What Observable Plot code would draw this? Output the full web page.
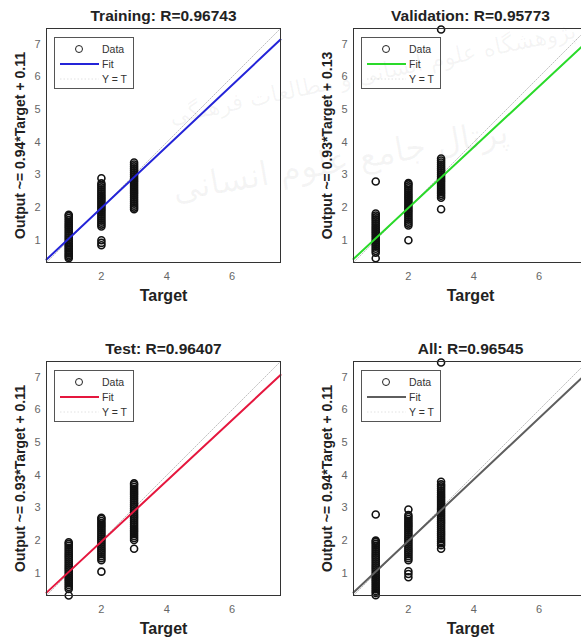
<!DOCTYPE html>
<html>
<head>
<meta charset="utf-8">
<script src="https://cdn.jsdelivr.net/npm/d3@7"></script>
<script src="https://cdn.jsdelivr.net/npm/@observablehq/plot@0.6"></script>
<style>
  html, body { margin: 0; padding: 0; background: #fff; overflow: hidden; }
  #root { position: relative; width: 581px; height: 637px; overflow: hidden; background: #fff; }
  .panel { position: absolute; width: 290px; height: 320px; }
  .panel svg { position: absolute; left: 0; top: 0; overflow: visible; }
  .legend { position: absolute; left: 54px; top: 37px; width: 78px; height: 50px;
            border: 1px solid #555; background: rgba(255,255,255,0.9);
            font-family: "Liberation Sans", Arial, sans-serif; font-size: 10.5px; color: #333; }
  .legend .t { position: absolute; left: 47px; line-height: 12px; }
  .wm { position: absolute; font-family: "DejaVu Sans", "Noto Sans", sans-serif; color: rgba(90,90,90,0.06);
        direction: rtl; white-space: nowrap; pointer-events: none; }
</style>
</head>
<body>
<div id="root"></div>
<script>
// ---- axis / tick data ----
const lim = [0.32, 7.48];
const xTicks = [2, 4, 6];
const yTicks = [1, 2, 3, 4, 5, 6, 7];

// ---- panel titles, labels, fits ----
const titles = ["Training: R=0.96743", "Validation: R=0.95773", "Test: R=0.96407", "All: R=0.96545"];
const yLabels = ["Output ~= 0.94*Target + 0.11", "Output ~= 0.93*Target + 0.13",
                 "Output ~= 0.93*Target + 0.11", "Output ~= 0.94*Target + 0.11"];
const slopes = [0.94, 0.93, 0.93, 0.94];
const intercepts = [0.11, 0.13, 0.11, 0.11];
const fitColors = ["#2424d8", "#2ada2a", "#e5173e", "#5e5e5e"];

// ---- outputs at target = 1, 2, 3 ----
const train1 = [0.45,0.5,0.55,0.6,0.65,0.7,0.75,0.8,0.85,0.9,0.96,1.02,1.08,1.14,1.2,1.26,1.32,1.38,1.44,1.5,1.56,1.62,1.68,1.74,1.78];
const train2 = [0.85,0.92,1.0,1.42,1.48,1.54,1.6,1.66,1.72,1.78,1.84,1.9,1.96,2.02,2.08,2.14,2.2,2.26,2.32,2.38,2.44,2.5,2.56,2.62,2.68,2.74,2.9];
const train3 = [1.95,2.0,2.06,2.12,2.18,2.24,2.3,2.36,2.42,2.48,2.54,2.6,2.66,2.72,2.78,2.84,2.9,2.96,3.02,3.08,3.14,3.2,3.26,3.32,3.38];

const val1 = [0.45,0.62,0.68,0.74,0.8,0.86,0.92,0.98,1.04,1.1,1.16,1.22,1.28,1.34,1.4,1.46,1.52,1.58,1.64,1.7,1.76,1.82,2.8];
const val2 = [1.0,1.45,1.51,1.57,1.63,1.69,1.75,1.81,1.87,1.93,1.99,2.05,2.11,2.17,2.23,2.29,2.35,2.41,2.47,2.53,2.59,2.65,2.71,2.75];
const val3 = [1.95,2.3,2.36,2.42,2.48,2.54,2.6,2.66,2.72,2.78,2.84,2.9,2.96,3.02,3.08,3.14,3.2,3.26,3.32,3.38,3.44,3.5,7.45];

const test1 = [0.32,0.52,0.58,0.64,0.7,0.76,0.82,0.88,0.94,1.0,1.06,1.12,1.18,1.24,1.3,1.36,1.42,1.48,1.54,1.6,1.66,1.72,1.78,1.84,1.9,1.95];
const test2 = [1.05,1.4,1.46,1.52,1.58,1.64,1.7,1.76,1.82,1.88,1.94,2.0,2.06,2.12,2.18,2.24,2.3,2.36,2.42,2.48,2.54,2.6,2.66,2.7];
const test3 = [1.75,2.02,2.08,2.14,2.2,2.26,2.32,2.38,2.44,2.5,2.56,2.62,2.68,2.74,2.8,2.86,2.92,2.98,3.04,3.1,3.16,3.22,3.28,3.34,3.4,3.46,3.52,3.58,3.64,3.7,3.75];

const all1 = [0.33,0.4,0.46,0.52,0.58,0.64,0.7,0.76,0.82,0.88,0.94,1.0,1.06,1.12,1.18,1.24,1.3,1.36,1.42,1.48,1.54,1.6,1.66,1.72,1.78,1.84,1.9,1.96,2.0,2.8];
const all2 = [0.88,0.98,1.06,1.4,1.46,1.52,1.58,1.64,1.7,1.76,1.82,1.88,1.94,2.0,2.06,2.12,2.18,2.24,2.3,2.36,2.42,2.48,2.54,2.6,2.66,2.72,2.78,2.95];
const all3 = [1.75,1.86,1.92,1.98,2.04,2.1,2.16,2.22,2.28,2.34,2.4,2.46,2.52,2.58,2.64,2.7,2.76,2.82,2.88,2.94,3.0,3.06,3.12,3.18,3.24,3.3,3.36,3.42,3.48,3.54,3.6,3.66,3.72,3.8,7.45];

const columns = [[train1, train2, train3], [val1, val2, val3], [test1, test2, test3], [all1, all2, all3]];
const offsets = [[0, 0], [307, 0], [0, 333], [307, 333]];

const W = 290, H = 320;
const font = '"Liberation Sans", Arial, Helvetica, sans-serif';

function panel(i) {
  const data = columns[i].flatMap((col, k) => col.map(o => ({t: k + 1, o})));
  const fit = lim.map(t => ({t, o: slopes[i] * t + intercepts[i]}));
  const ident = lim.map(t => ({t, o: t}));
  return Plot.plot({
    width: W, height: H,
    marginLeft: 46, marginRight: 10, marginTop: 28, marginBottom: 58,
    style: {fontFamily: font, background: "transparent", overflow: "visible"},
    x: {domain: lim},
    y: {domain: lim},
    marks: [
      Plot.axisX({ticks: xTicks, tickSize: 0, tickPadding: 10, fontSize: 11, color: "#666", label: null}),
      Plot.axisY({ticks: yTicks, tickSize: 0, tickPadding: 6, fontSize: 11, color: "#666", label: null}),
      Plot.line(ident, {x: "t", y: "o", stroke: "#c4c4c4", strokeWidth: 1, strokeDasharray: "1.5,1.5"}),
      Plot.dot(data, {x: "t", y: "o", r: 3.5, stroke: "#111", strokeWidth: 1.6, fill: "none"}),
      Plot.line(fit, {x: "t", y: "o", stroke: fitColors[i], strokeWidth: 2}),
      Plot.frame({stroke: "#333", strokeWidth: 1}),
      Plot.text([titles[i]], {frameAnchor: "top", lineAnchor: "middle", dy: -12, fontWeight: "bold", fontSize: 15.5, fill: "#222", text: d => d}),
      Plot.text(["Target"], {frameAnchor: "bottom", lineAnchor: "middle", dy: 33, fontWeight: "bold", fontSize: 16, fill: "#222", text: d => d}),
      Plot.text([yLabels[i]], {frameAnchor: "left", textAnchor: "middle", lineAnchor: "middle", dx: -26, rotate: -90, fontWeight: "bold", fontSize: 14, fill: "#222", text: d => d})
    ]
  });
}

const root = document.getElementById("root");
for (let i = 0; i < 4; i++) {
  const div = document.createElement("div");
  div.className = "panel";
  div.style.left = offsets[i][0] + "px";
  div.style.top = offsets[i][1] + "px";
  div.appendChild(panel(i));
  const lg = document.createElement("div");
  lg.className = "legend";
  lg.innerHTML =
    `<svg width="78" height="50" style="position:absolute;left:0;top:0">
       <circle cx="24" cy="11" r="3.5" fill="none" stroke="#222" stroke-width="1"/>
       <line x1="5" x2="44" y1="26" y2="26" stroke="${fitColors[i]}" stroke-width="2"/>
       <line x1="5" x2="44" y1="41" y2="41" stroke="#e2e2e2" stroke-width="1" stroke-dasharray="1.5,2"/>
     </svg>
     <div class="t" style="top:5px">Data</div>
     <div class="t" style="top:20px">Fit</div>
     <div class="t" style="top:35px">Y = T</div>`;
  div.appendChild(lg);
  root.appendChild(div);
}

// faint watermark
const wm1 = document.createElement("div");
wm1.className = "wm";
wm1.textContent = "پژوهشگاه علوم انسانی و مطالعات فرهنگی";
Object.assign(wm1.style, {left: "165px", top: "60px", fontSize: "23px", transform: "rotate(-12deg)"});
root.appendChild(wm1);
const wm2 = document.createElement("div");
wm2.className = "wm";
wm2.textContent = "پرتال جامع علوم انسانی";
Object.assign(wm2.style, {left: "170px", top: "140px", fontSize: "34px", transform: "rotate(-10deg)"});
root.appendChild(wm2);
</script>
</body>
</html>
